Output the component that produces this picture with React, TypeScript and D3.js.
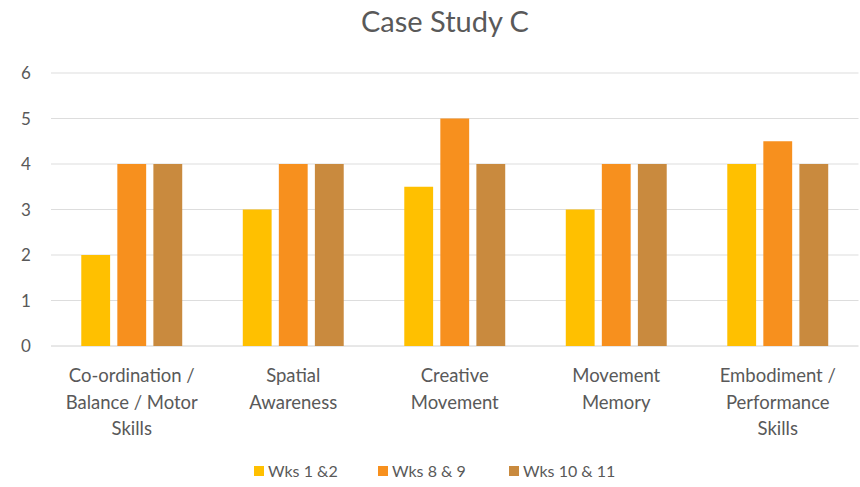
import React from "react";
import * as d3 from "d3";

const categories = [
  ["Co-ordination /", "Balance / Motor", "Skills"],
  ["Spatial", "Awareness"],
  ["Creative", "Movement"],
  ["Movement", "Memory"],
  ["Embodiment /", "Performance", "Skills"],
];
const seriesNames = ["Wks 1 &2", "Wks 8 & 9", "Wks 10 & 11"];
const wks1_2 = [2, 3, 3.5, 3, 4];
const wks8_9 = [4, 4, 5, 4, 4.5];
const wks10_11 = [4, 4, 4, 4, 4];
const yTicks = [0, 1, 2, 3, 4, 5, 6];
const colors = ["#FFC000", "#F7901E", "#C98A3E"];

const W = 860;
const H = 487;
const margin = { left: 51, right: 1.5, top: 73, bottom: 141 };
const font = "Lato, 'Open Sans', sans-serif";

export default function App() {
  const series = [wks1_2, wks8_9, wks10_11];
  const x0 = d3
    .scaleBand<number>()
    .domain(categories.map((_, i) => i))
    .range([margin.left, W - margin.right])
    .paddingInner(0.375)
    .paddingOuter(0.1875);
  const x1 = d3
    .scaleBand<number>()
    .domain([0, 1, 2])
    .range([0, x0.bandwidth()])
    .paddingInner(0.2);
  const y = d3.scaleLinear().domain([0, 6]).range([H - margin.bottom, margin.top]);

  const legendX = [259, 383, 514];

  return (
    <svg
      width={W}
      height={H}
      style={{ position: "absolute", left: 0, top: 0, background: "#fff" }}
      fontFamily={font}
    >
      <text x={445} y={32} textAnchor="middle" fontSize={29} fill="#595959">
        Case Study C
      </text>
      {yTicks.map((t) => (
        <g key={t}>
          <line
            x1={margin.left}
            x2={W - margin.right}
            y1={y(t)}
            y2={y(t)}
            stroke={t === 0 ? "#D0D0D0" : "#DDDDDD"}
            strokeWidth={1}
          />
          <text x={26} y={y(t) + 6} textAnchor="middle" fontSize={17} fill="#595959">
            {t}
          </text>
        </g>
      ))}
      {series.map((vals, s) =>
        vals.map((v, i) => (
          <rect
            key={`${s}-${i}`}
            x={(x0(i) as number) + (x1(s) as number)}
            y={y(v)}
            width={x1.bandwidth()}
            height={y(0) - y(v)}
            fill={colors[s]}
          />
        ))
      )}
      {categories.map((lines, i) => (
        <text key={i} textAnchor="middle" fontSize={18.5} fill="#595959">
          {lines.map((l, j) => (
            <tspan key={j} x={(x0(i) as number) + x0.bandwidth() / 2} y={382 + j * 26.5}>
              {l}
            </tspan>
          ))}
        </text>
      ))}
      {seriesNames.map((n, s) => (
        <g key={n}>
          <rect x={legendX[s] - 5} y={466} width={10} height={10} fill={colors[s]} />
          <text x={legendX[s] + 9} y={477} fontSize={16} fill="#595959">
            {n}
          </text>
        </g>
      ))}
    </svg>
  );
}
